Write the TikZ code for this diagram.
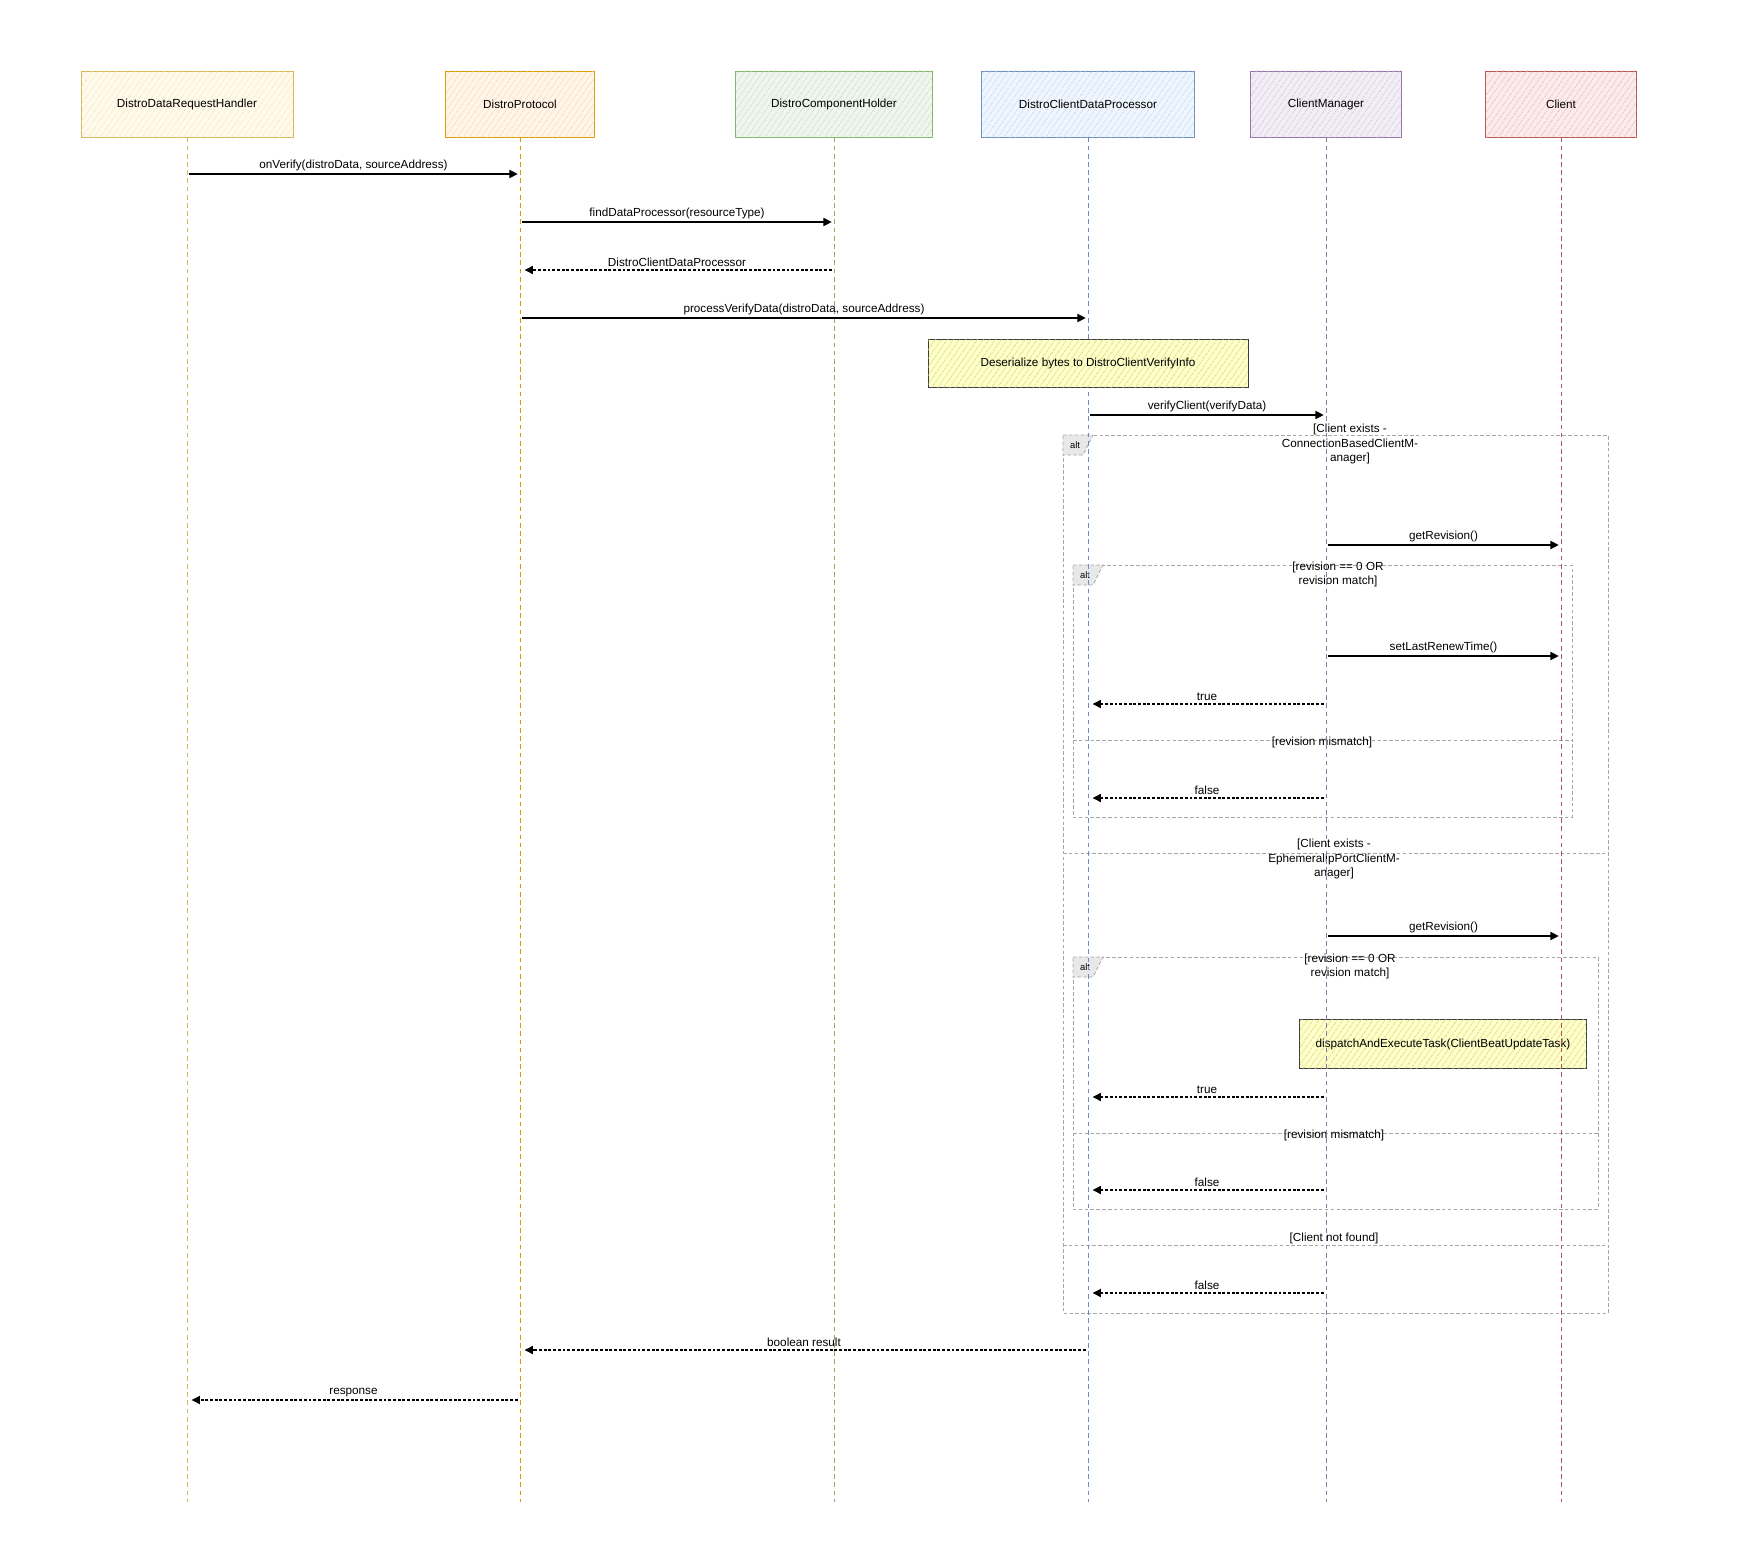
\documentclass[tikz,border=0pt]{standalone}
\usepackage{fontspec}
\setmainfont{Liberation Sans}
\usetikzlibrary{arrows.meta, patterns.meta, positioning, calc}

\definecolor{handlerDraw}{HTML}{D6B656}   \definecolor{handlerFill}{HTML}{FFF2CC}
\definecolor{protocolDraw}{HTML}{D79B00}  \definecolor{protocolFill}{HTML}{FFE6CC}
\definecolor{holderDraw}{HTML}{82B366}    \definecolor{holderFill}{HTML}{D5E8D4}
\definecolor{processorDraw}{HTML}{6C8EBF} \definecolor{processorFill}{HTML}{DAE8FC}
\definecolor{managerDraw}{HTML}{9673A6}   \definecolor{managerFill}{HTML}{E1D5E7}
\definecolor{clientDraw}{HTML}{B85450}    \definecolor{clientFill}{HTML}{F8CECC}
\definecolor{noteDraw}{HTML}{36393D}      \definecolor{noteFill}{HTML}{FFFF88}
\definecolor{frameGray}{HTML}{A6A6A6}

\begin{document}
\begin{tikzpicture}[
    x=0.03cm, y=-0.03cm,
    font=\fontsize{10}{12}\selectfont,
    actor/.style 2 args = {rectangle, draw=#1, line width=0.8pt, fill=#2!40!white,
        postaction={pattern={Lines[angle=55, distance=4pt, line width=0.5pt]}, pattern color=#2!75!#1},
        minimum height=1.98cm, text centered},
    lifeline/.style  = {draw=#1, line width=0.7pt, dash pattern=on 4pt off 3pt},
    call/.style      = {line width=0.9pt, -{Triangle[length=7pt, width=7pt]}, shorten <=2pt, shorten >=2pt},
    reply/.style     = {call, dash pattern=on 2.5pt off 1.5pt, shorten >=4pt},
    msg/.style       = {above, inner sep=2.5pt},
    note/.style      = {rectangle, draw=noteDraw, line width=0.8pt, fill=noteFill!45!white,
        postaction={pattern={Lines[angle=55, distance=4pt, line width=0.5pt]}, pattern color=noteFill!80!black},
        text centered},
    altframe/.style  = {draw=frameGray, line width=0.7pt, dash pattern=on 3pt off 2pt},
    alttab/.style    = {altframe, fill=gray!18},
    guard/.style     = {align=center, inner sep=0pt}
]
    \useasboundingbox (0,0) rectangle (1764,1566);

    % --- Kepala lifeline ---
    \node (handler)   [actor={handlerDraw}{handlerFill}, minimum width=6.36cm]     at (187,104)  {DistroDataRequestHandler};
    \node (protocol)  [actor={protocolDraw}{protocolFill}, minimum width=4.47cm]   at (520,104)  {DistroProtocol};
    \node (holder)    [actor={holderDraw}{holderFill}, minimum width=5.91cm]       at (834,104)  {DistroComponentHolder};
    \node (processor) [actor={processorDraw}{processorFill}, minimum width=6.39cm] at (1088,104) {DistroClientDataProcessor};
    \node (manager)   [actor={managerDraw}{managerFill}, minimum width=4.53cm]     at (1326,104) {ClientManager};
    \node (client)    [actor={clientDraw}{clientFill}, minimum width=4.53cm]       at (1561,104) {Client};

    % --- Baris pesan ---
    \coordinate (bottom) at (0,1502);
    \foreach \n/\y in {1/174, 2/222, 3/270, 4/318, 5/415, 6/545, 7/656, 8/704, 9/798,
                       10/936, 11/1097, 12/1190, 13/1293, 14/1350, 15/1400}
        \coordinate (r\n) at (0,\y);

    % --- Frame alt ---
    \coordinate (altA) at (1063,435);  \coordinate (altAend) at (1608,1313);
    \coordinate (altB) at (1073,565);  \coordinate (altBend) at (1572,817);
    \coordinate (altC) at (1073,957);  \coordinate (altCend) at (1598,1209);
    \coordinate (dB) at (0,740);  \coordinate (dA1) at (0,853);
    \coordinate (dC) at (0,1133); \coordinate (dA2) at (0,1245);

    \draw [altframe] (altA) rectangle (altAend);
    \draw [altframe] (altB) rectangle (altBend);
    \draw [altframe] (altC) rectangle (altCend);
    \draw [altframe] (altB |- dB) -- (altBend |- dB);
    \draw [altframe] (altC |- dC) -- (altCend |- dC);
    \draw [altframe] (altA |- dA1) -- (altAend |- dA1);
    \draw [altframe] (altA |- dA2) -- (altAend |- dA2);

    \foreach \c in {altA, altB, altC} {
        \draw [alttab] (\c) -- ++(30,0) -- ++(-10,20) -- ++(-20,0) -- cycle;
        \node (\c-tag) [font=\fontsize{8}{9}\selectfont, inner sep=0pt] at ($(\c)+(12,10)$) {alt};
    }

    % --- Kondisi alt ---
    \node (gA1) [guard] at (1350,444) {[Client exists -\\ConnectionBasedClientM-\\anager]};
    \node (gB1) [guard] at (1338,574) {[revision == 0 OR\\revision match]};
    \node (gB2) [guard] at (1322,742) {[revision mismatch]};
    \node (gA2) [guard] at (1334,859) {[Client exists -\\EphemeralIpPortClientM-\\anager]};
    \node (gC1) [guard] at (1350,966) {[revision == 0 OR\\revision match]};
    \node (gC2) [guard] at (1334,1135) {[revision mismatch]};
    \node (gA3) [guard] at (1334,1238) {[Client not found]};

    % --- Catatan dispatch (di bawah lifeline) ---
    \node (dispatch) [note, minimum width=8.61cm, minimum height=1.47cm] at (1443,1044) {dispatchAndExecuteTask(ClientBeatUpdateTask)};

    % --- Garis lifeline ---
    \draw [lifeline=handlerDraw]   (handler.south)   -- (handler |- bottom);
    \draw [lifeline=protocolDraw]  (protocol.south)  -- (protocol |- bottom);
    \draw [lifeline=holderDraw]    (holder.south)    -- (holder |- bottom);
    \draw [lifeline=processorDraw] (processor.south) -- (processor |- bottom);
    \draw [lifeline=managerDraw]   (manager.south)   -- (manager |- bottom);
    \draw [lifeline=clientDraw]    (client.south)    -- (client |- bottom);

    % --- Catatan deserialisasi ---
    \node (deser) [note, minimum width=9.6cm, minimum height=1.44cm] at (1088,363) {Deserialize bytes to DistroClientVerifyInfo};

    % --- Pesan ---
    \draw [call]  (handler |- r1)   -- node[msg] {onVerify(distroData, sourceAddress)} (protocol |- r1);
    \draw [call]  (protocol |- r2)  -- node[msg] {findDataProcessor(resourceType)} (holder |- r2);
    \draw [reply] (holder |- r3)    -- node[msg] {DistroClientDataProcessor} (protocol |- r3);
    \draw [call]  (protocol |- r4)  -- node[msg] {processVerifyData(distroData, sourceAddress)} (processor |- r4);
    \draw [call]  (processor |- r5) -- node[msg] {verifyClient(verifyData)} (manager |- r5);

    % ConnectionBasedClientManager
    \draw [call]  (manager |- r6)   -- node[msg] {getRevision()} (client |- r6);
    \draw [call]  (manager |- r7)   -- node[msg] {setLastRenewTime()} (client |- r7);
    \draw [reply] (manager |- r8)   -- node[msg] {true} (processor |- r8);
    \draw [reply] (manager |- r9)   -- node[msg] {false} (processor |- r9);

    % EphemeralIpPortClientManager
    \draw [call]  (manager |- r10)  -- node[msg] {getRevision()} (client |- r10);
    \draw [reply] (manager |- r11)  -- node[msg] {true} (processor |- r11);
    \draw [reply] (manager |- r12)  -- node[msg] {false} (processor |- r12);

    % Client tidak ditemukan
    \draw [reply] (manager |- r13)  -- node[msg] {false} (processor |- r13);

    % Kembali ke pemanggil
    \draw [reply] (processor |- r14) -- node[msg] {boolean result} (protocol |- r14);
    \draw [reply] (protocol |- r15)  -- node[msg] {response} (handler |- r15);

\end{tikzpicture}
\end{document}
